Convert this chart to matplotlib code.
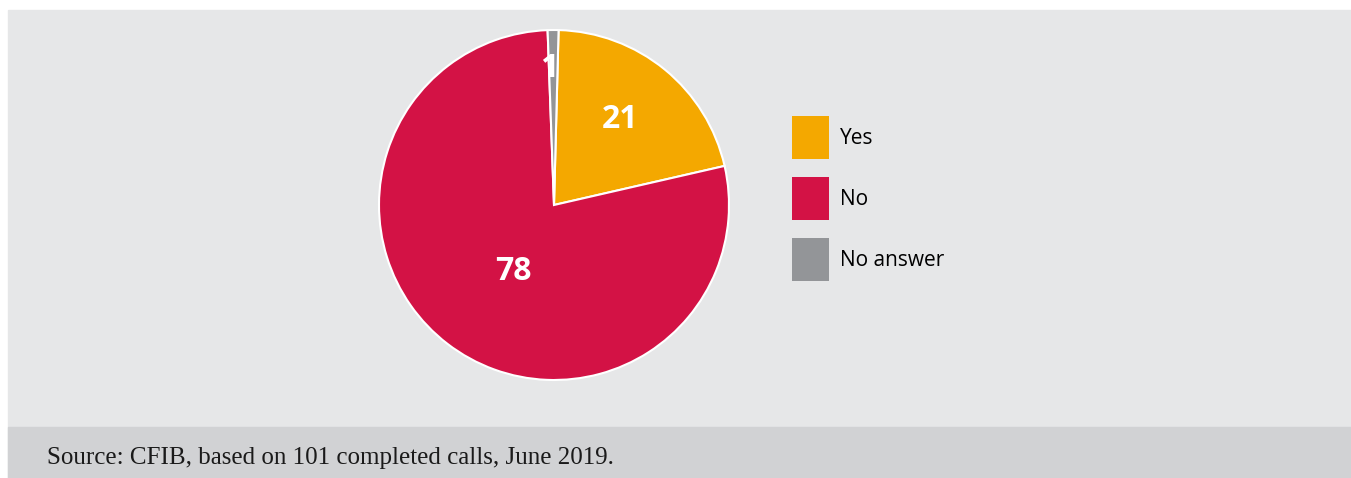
import matplotlib.pyplot as plt
from matplotlib.patches import Rectangle

# survey answers (share of calls, %)
labels = ['Yes', 'No', 'No answer']
values = [21, 78, 1]
slice_colors = ['#f4a800', '#d31245', '#939598']

W, H = 1351, 478
fig = plt.figure(figsize=(W / 100, H / 100), dpi=100)
fig.patch.set_facecolor('white')

# grey panel and darker source strip
fig.patches.append(Rectangle((8 / W, 0), 1 - 8 / W, (H - 10) / H,
                             transform=fig.transFigure, color='#e6e7e8', zorder=-2))
fig.patches.append(Rectangle((8 / W, 0), 1 - 8 / W, (H - 427) / H,
                             transform=fig.transFigure, color='#d1d2d4', zorder=-1))

# pie: centre (554, 205) px, radius 175 px
cx, cy, r = 554, H - 205, 175
ax = fig.add_axes([(cx - r) / W, (cy - r) / H, 2 * r / W, 2 * r / H])
ax.set_facecolor('none')
wedges, _ = ax.pie(values, colors=slice_colors, startangle=88.5, counterclock=False,
                   radius=1, wedgeprops=dict(edgecolor='white', linewidth=1.5))
ax.set_xlim(-1, 1)
ax.set_ylim(-1, 1)
ax.set_aspect('equal')
ax.axis('off')

# value labels inside the slices
label_pos = [(0.375, 0.49), (-0.235, -0.38), (-0.03, 0.78)]
for v, (x, y) in zip(values, label_pos):
    ax.text(x, y, str(v), color='white', fontsize=23, fontweight='bold',
            family='Open Sans', ha='center', va='center')

fig.legend(wedges, labels, loc='upper left', bbox_to_anchor=(792 / W, 1 - 116 / H),
           frameon=False, borderpad=0, borderaxespad=0, handlelength=1.78,
           handleheight=2.8, handletextpad=0.5, labelspacing=0.87,
           prop=dict(family='Open Sans', size=15))
for h in fig.legends[0].legend_handles:
    h.set_edgecolor('none')

fig.text(47 / W, 1 - 458 / H, 'Source: CFIB, based on 101 completed calls, June 2019.',
         family='Liberation Serif', fontsize=18, color='#1a1a1a', va='center', ha='left')

fig.savefig('out.png', dpi=100)
